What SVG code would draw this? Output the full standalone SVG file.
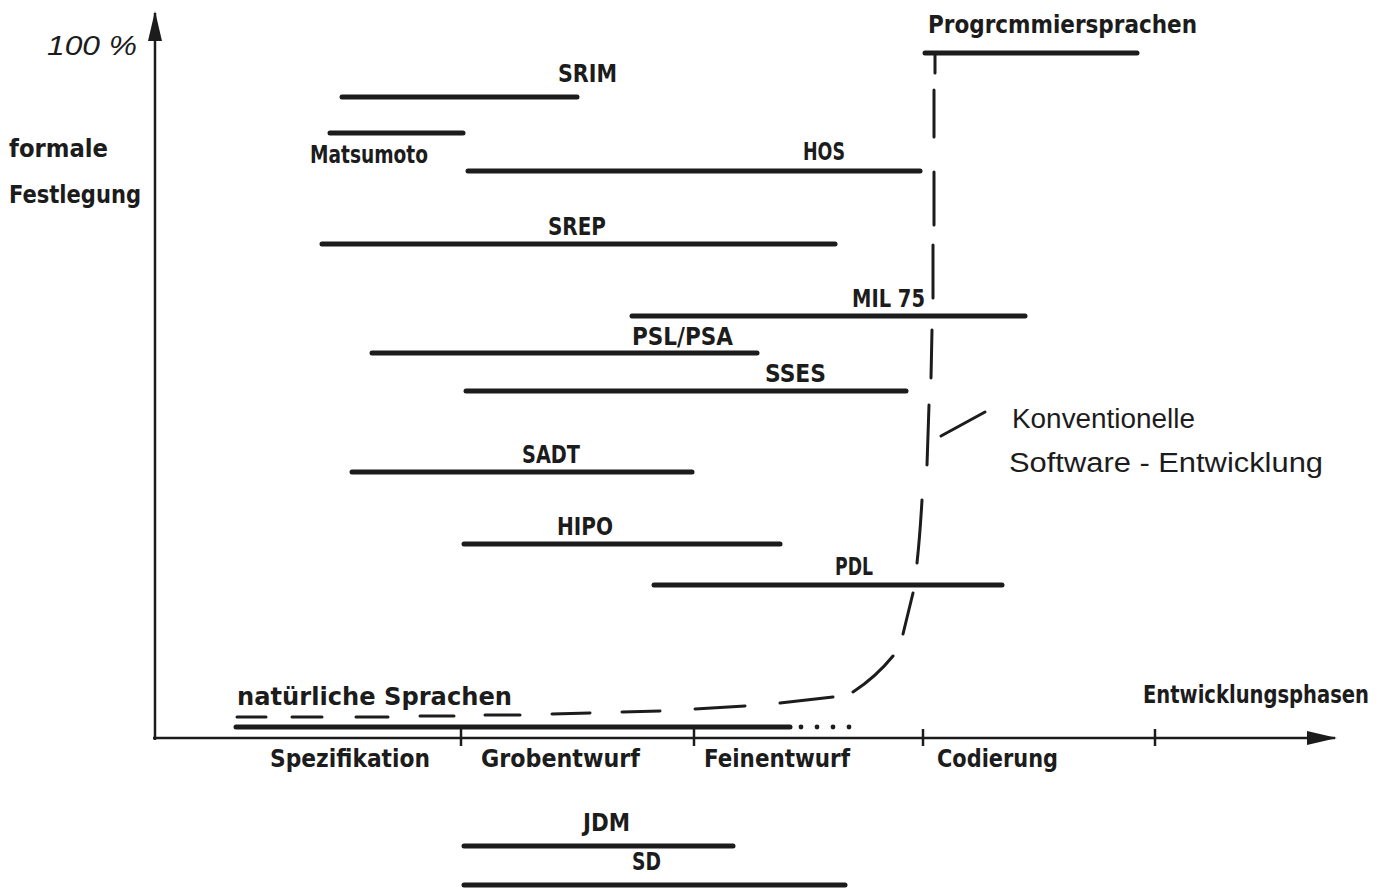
<svg xmlns="http://www.w3.org/2000/svg" width="1391" height="891" viewBox="0 0 1391 891">
  <style>
    .bar { stroke: #1c1c1c; stroke-width: 5; stroke-linecap: round; fill: none; }
    .axis { stroke: #1c1c1c; stroke-width: 2.5; fill: none; }
    .tick { stroke: #1c1c1c; stroke-width: 2.5; }
    .dash { stroke: #1c1c1c; stroke-width: 3; stroke-linecap: round; fill: none; }
    .lbl { font-family: "DejaVu Sans Condensed", "DejaVu Sans", sans-serif; font-weight: bold; font-size: 24px; fill: #1c1c1c; }
    .cap { font-family: "DejaVu Sans Condensed", "DejaVu Sans", sans-serif; font-weight: bold; font-size: 25px; fill: #1c1c1c; }
    .hand { font-family: "Liberation Sans", "DejaVu Sans", sans-serif; font-size: 27px; fill: #1c1c1c; }
  </style>
  <defs>
    <marker id="arrow" viewBox="0 0 30 16" refX="28" refY="8" markerWidth="30" markerHeight="16" markerUnits="userSpaceOnUse" orient="auto">
      <path d="M0 1 L30 8 L0 15 Z" fill="#1c1c1c"/>
    </marker>
  </defs>
  <rect width="1391" height="891" fill="#ffffff"/>

  <!-- axes -->
  <g id="axes">
    <line class="axis" x1="155" y1="740" x2="155" y2="13" marker-end="url(#arrow)"/>
    <line class="axis" x1="153" y1="738" x2="1335" y2="738" marker-end="url(#arrow)"/>
    <line class="tick" x1="461" y1="729" x2="461" y2="746"/>
    <line class="tick" x1="694" y1="729" x2="694" y2="746"/>
    <line class="tick" x1="923" y1="729" x2="923" y2="746"/>
    <line class="tick" x1="1155" y1="729" x2="1155" y2="746"/>
    <text class="hand" x="47" y="55" font-style="italic" textLength="90" lengthAdjust="spacingAndGlyphs">100 %</text>
    <text class="lbl" x="9" y="157" textLength="99" lengthAdjust="spacingAndGlyphs">formale</text>
    <text class="lbl" x="9" y="203" textLength="132" lengthAdjust="spacingAndGlyphs">Festlegung</text>
    <text class="lbl" x="1143" y="703" font-size="23" textLength="226" lengthAdjust="spacingAndGlyphs">Entwicklungsphasen</text>
    <text class="lbl" x="270" y="767" textLength="160" lengthAdjust="spacingAndGlyphs">Spezifikation</text>
    <text class="lbl" x="481" y="767" textLength="159" lengthAdjust="spacingAndGlyphs">Grobentwurf</text>
    <text class="lbl" x="704" y="767" textLength="146" lengthAdjust="spacingAndGlyphs">Feinentwurf</text>
    <text class="lbl" x="937" y="767" textLength="121" lengthAdjust="spacingAndGlyphs">Codierung</text>
  </g>

  <!-- method ranges -->
  <g id="programmiersprachen">
    <line class="bar" x1="925" y1="53" x2="1137" y2="53"/>
    <text class="lbl" x="928" y="33" font-size="22" textLength="269" lengthAdjust="spacingAndGlyphs">Progrcmmiersprachen</text>
  </g>
  <g id="srim">
    <line class="bar" x1="342" y1="97" x2="577" y2="97"/>
    <text class="cap" x="558" y="82" textLength="59" lengthAdjust="spacingAndGlyphs">SRIM</text>
  </g>
  <g id="matsumoto">
    <line class="bar" x1="330" y1="133" x2="463" y2="133"/>
    <text class="lbl" x="310" y="163" textLength="118" lengthAdjust="spacingAndGlyphs">Matsumoto</text>
  </g>
  <g id="hos">
    <line class="bar" x1="468" y1="171" x2="920" y2="171"/>
    <text class="cap" x="803" y="160" textLength="42" lengthAdjust="spacingAndGlyphs">HOS</text>
  </g>
  <g id="srep">
    <line class="bar" x1="322" y1="244" x2="835" y2="244"/>
    <text class="cap" x="548" y="235" textLength="58" lengthAdjust="spacingAndGlyphs">SREP</text>
  </g>
  <g id="mil75">
    <line class="bar" x1="632" y1="316" x2="1025" y2="316"/>
    <text class="cap" x="852" y="307" textLength="73" lengthAdjust="spacingAndGlyphs">MIL 75</text>
  </g>
  <g id="pslpsa">
    <line class="bar" x1="372" y1="353" x2="757" y2="353"/>
    <text class="cap" x="632" y="345" textLength="101" lengthAdjust="spacingAndGlyphs">PSL/PSA</text>
  </g>
  <g id="sses">
    <line class="bar" x1="466" y1="391" x2="906" y2="391"/>
    <text class="cap" x="765" y="382" textLength="61" lengthAdjust="spacingAndGlyphs">SSES</text>
  </g>
  <g id="sadt">
    <line class="bar" x1="352" y1="472" x2="692" y2="472"/>
    <text class="cap" x="522" y="463" textLength="58" lengthAdjust="spacingAndGlyphs">SADT</text>
  </g>
  <g id="hipo">
    <line class="bar" x1="464" y1="544" x2="780" y2="544"/>
    <text class="cap" x="557" y="535" textLength="56" lengthAdjust="spacingAndGlyphs">HIPO</text>
  </g>
  <g id="pdl">
    <line class="bar" x1="654" y1="585" x2="1002" y2="585"/>
    <text class="cap" x="835" y="575" textLength="38" lengthAdjust="spacingAndGlyphs">PDL</text>
  </g>
  <g id="natuerliche-sprachen">
    <line class="bar" x1="236" y1="727" x2="790" y2="727"/>
    <g fill="#1c1c1c">
      <circle cx="801" cy="727" r="2.4"/>
      <circle cx="817" cy="727" r="2.4"/>
      <circle cx="833" cy="727" r="2.4"/>
      <circle cx="849" cy="727" r="2.4"/>
    </g>
    <text class="lbl" x="237" y="705" textLength="275" lengthAdjust="spacingAndGlyphs">natürliche Sprachen</text>
  </g>
  <g id="jdm">
    <line class="bar" x1="464" y1="846" x2="733" y2="846"/>
    <text class="cap" x="583" y="831" textLength="47" lengthAdjust="spacingAndGlyphs">JDM</text>
  </g>
  <g id="sd">
    <line class="bar" x1="464" y1="885" x2="845" y2="885"/>
    <text class="cap" x="632" y="870" textLength="29" lengthAdjust="spacingAndGlyphs">SD</text>
  </g>

  <!-- conventional development curve -->
  <g id="connectors">
    <path class="dash" d="M237 717 L266 717 M292 717 L322 717 M356 717 L388 717 M420 716 L454 716 M485 715 L520 715 M552 714 L590 713 M622 712 L660 711 M695 709 L745 706 M780 703 L833 697 M853 692 Q876 677 893 656 M903 634 L913 593 M917 563 Q920 535 922 500 M927 465 L929 405 M931 378 L932 330 M933 298 L933 245 M934 225 L934 172 M934 137 L934 90 M935 73 L935 55"/>
    <line class="dash" x1="941" y1="436" x2="985" y2="412" stroke-width="2.5"/>
  </g>
  <g id="konventionelle">
    <text class="hand" x="1012" y="428" textLength="183" lengthAdjust="spacingAndGlyphs">Konventionelle</text>
    <text class="hand" x="1009" y="472" textLength="314" lengthAdjust="spacingAndGlyphs">Software - Entwicklung</text>
  </g>
</svg>
